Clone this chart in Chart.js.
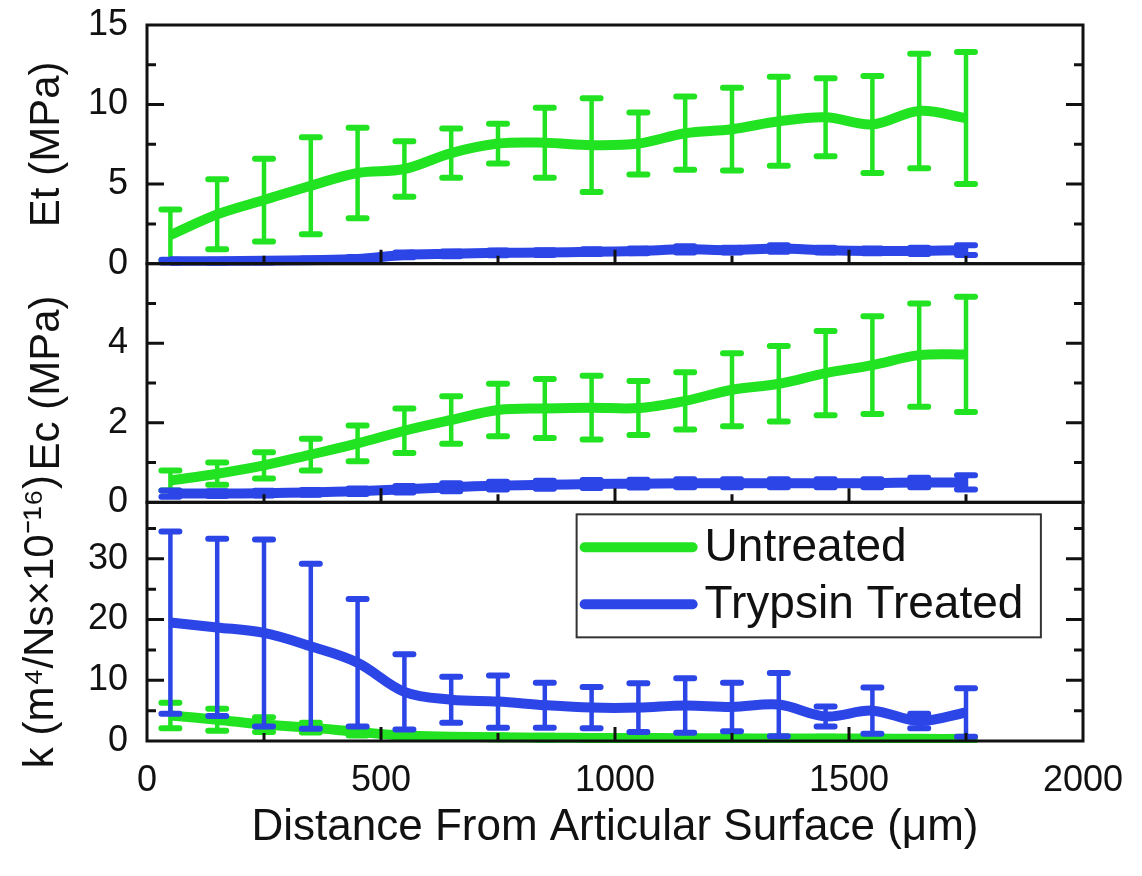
<!DOCTYPE html>
<html lang="en">
<head>
<meta charset="UTF-8">
<title>Et / Ec / k vs depth</title>
<script src="https://cdn.jsdelivr.net/npm/chart.js"></script>
<style>
    body { margin: 0; background: #ffffff; }
    #chart { display: block; }
</style>
</head>
<body>
<canvas id="chart" width="1142" height="876"></canvas>
<script>
// distance from articular surface (um)
const distance = [50, 150, 250, 350, 450, 550, 650, 750, 850, 950, 1050, 1150, 1250, 1350, 1450, 1550, 1650, 1750];
const seriesNames = ['Untreated', 'Trypsin Treated'];

// Et (MPa)
const etUntreated   = [1.8, 3.1, 4.0, 4.9, 5.7, 5.95, 6.95, 7.55, 7.6, 7.45, 7.55, 8.2, 8.45, 8.95, 9.2, 8.75, 9.6, 9.15];
const etUntreatedSd = [1.6, 2.2, 2.6, 3.05, 2.85, 1.75, 1.55, 1.25, 2.2, 2.95, 1.95, 2.3, 2.6, 2.8, 2.45, 3.05, 3.6, 4.15];
const etTrypsin     = [0.15, 0.15, 0.18, 0.22, 0.3, 0.55, 0.62, 0.68, 0.7, 0.75, 0.8, 0.9, 0.85, 0.95, 0.85, 0.8, 0.8, 0.85];
const etTrypsinSd   = [0.1, 0.1, 0.1, 0.1, 0.12, 0.15, 0.15, 0.15, 0.15, 0.15, 0.15, 0.2, 0.15, 0.2, 0.15, 0.15, 0.2, 0.3];

// Ec (MPa)
const ecUntreated   = [0.55, 0.72, 0.93, 1.2, 1.48, 1.8, 2.07, 2.32, 2.36, 2.38, 2.37, 2.55, 2.83, 2.98, 3.25, 3.45, 3.7, 3.72];
const ecUntreatedSd = [0.25, 0.28, 0.33, 0.4, 0.45, 0.56, 0.6, 0.66, 0.74, 0.8, 0.68, 0.72, 0.92, 0.95, 1.06, 1.23, 1.3, 1.45];
const ecTrypsin     = [0.22, 0.22, 0.23, 0.25, 0.28, 0.33, 0.38, 0.42, 0.44, 0.46, 0.47, 0.48, 0.48, 0.48, 0.48, 0.48, 0.5, 0.5];
const ecTrypsinSd   = [0.08, 0.06, 0.06, 0.06, 0.07, 0.08, 0.1, 0.1, 0.1, 0.1, 0.1, 0.1, 0.1, 0.1, 0.1, 0.1, 0.12, 0.18];

// k (m^4/Ns x 10^-16)
const kUntreated   = [4.2, 3.5, 2.7, 2.2, 1.5, 0.9, 0.7, 0.6, 0.55, 0.5, 0.5, 0.45, 0.45, 0.4, 0.4, 0.4, 0.35, 0.35];
const kUntreatedSd = [2.1, 1.8, 1.2, 0.8, 0.6, 0.4, 0.3, 0.3, 0.3, 0.3, 0.3, 0.3, 0.3, 0.3, 0.3, 0.3, 0.3, 0.3];
const kTrypsin     = [19.5, 18.7, 17.8, 15.6, 12.9, 8.1, 6.8, 6.5, 5.9, 5.5, 5.5, 5.85, 5.6, 6.0, 4.05, 5.0, 3.3, 4.7];
const kTrypsinSd   = [15, 14.6, 15.4, 13.6, 10.5, 6.2, 3.8, 4.3, 3.7, 3.4, 4.0, 4.5, 4.0, 5.2, 1.65, 3.8, 1.2, 4.0];

// axis ranges / tick steps
const xTicks = { max: 2000, major: 500, minor: 250 };
const panels = [
    { id: 'yEt', max: 15,   major: 5,  minor: 2.5 },
    { id: 'yEc', max: 6,    major: 2,  minor: 1 },
    { id: 'yK',  max: 39.3, major: 10, minor: 5 }
];

const GREEN = '#22e322';
const BLUE = '#2b45e6';
const FONT = "'Liberation Sans', Arial, sans-serif";

const pts = arr => distance.map((d, i) => ({ x: d, y: arr[i] }));

function series(label, values, sd, color, axis, order) {
    return {
        label: label,
        data: pts(values),
        errors: sd,
        yAxisID: axis,
        borderColor: color,
        backgroundColor: color,
        borderWidth: 10,
        pointRadius: 0,
        tension: 0.35,
        clip: 2,
        order: order
    };
}

// error bars drawn right after each dataset's line
const errorBars = {
    id: 'errorBars',
    afterDatasetDraw(chart, args) {
        const ds = chart.data.datasets[args.index];
        if (!ds.errors) return;
        const meta = args.meta;
        const xs = meta.xScale, ys = meta.yScale;
        const ctx = chart.ctx;
        ctx.save();
        ctx.beginPath();
        ctx.rect(xs.left, ys.top - 2, xs.right - xs.left, ys.bottom - ys.top + 4);
        ctx.clip();
        ctx.strokeStyle = ds.borderColor;
        ctx.lineCap = 'round';
        ds.data.forEach((p, i) => {
            const px = xs.getPixelForValue(p.x);
            const top = ys.getPixelForValue(p.y + ds.errors[i]);
            const bot = ys.getPixelForValue(p.y - ds.errors[i]);
            ctx.lineWidth = 4.5;
            ctx.beginPath();
            ctx.moveTo(px, top);
            ctx.lineTo(px, bot);
            ctx.stroke();
            ctx.lineWidth = 6;
            ctx.beginPath();
            ctx.moveTo(px - 9, top); ctx.lineTo(px + 9, top);
            ctx.moveTo(px - 9, bot); ctx.lineTo(px + 9, bot);
            ctx.stroke();
        });
        ctx.restore();
    }
};

// panel frames with inward ticks
const frames = {
    id: 'frames',
    afterDatasetsDraw(chart) {
        const ctx = chart.ctx;
        const xs = chart.scales.x;
        ctx.save();
        ctx.strokeStyle = '#111';
        ctx.lineWidth = 3;
        panels.forEach(p => {
            const ys = chart.scales[p.id];
            ctx.strokeRect(xs.left, ys.top, xs.right - xs.left, ys.bottom - ys.top);
            ctx.beginPath();
            for (let v = p.minor; v < p.max - 0.01; v += p.minor) {
                const py = ys.getPixelForValue(v);
                const len = Math.abs(v / p.major - Math.round(v / p.major)) < 0.001 ? 17 : 9;
                ctx.moveTo(xs.left, py); ctx.lineTo(xs.left + len, py);
                ctx.moveTo(xs.right, py); ctx.lineTo(xs.right - len, py);
            }
            for (let v = xTicks.minor; v < xTicks.max; v += xTicks.minor) {
                const px = xs.getPixelForValue(v);
                const len = v % xTicks.major === 0 ? 14 : 8;
                ctx.moveTo(px, ys.bottom); ctx.lineTo(px, ys.bottom - len);
            }
            ctx.stroke();
        });
        ctx.restore();
    }
};

// legend box inside the bottom panel
const legendBox = {
    id: 'legendBox',
    afterDraw(chart) {
        const ctx = chart.ctx;
        const xs = chart.scales.x;
        const ys = chart.scales.yK;
        const left = xs.getPixelForValue(918), right = xs.getPixelForValue(1910);
        const top = ys.top + 12, bottom = top + 123;
        ctx.save();
        ctx.fillStyle = '#ffffff';
        ctx.fillRect(left, top, right - left, bottom - top);
        ctx.strokeStyle = '#333';
        ctx.lineWidth = 2;
        ctx.strokeRect(left, top, right - left, bottom - top);
        const colors = [GREEN, BLUE];
        ctx.font = '46px ' + FONT;
        ctx.textBaseline = 'middle';
        ctx.lineCap = 'round';
        seriesNames.forEach((name, i) => {
            const cy = top + 33 + i * 57;
            ctx.strokeStyle = colors[i];
            ctx.lineWidth = 10;
            ctx.beginPath();
            ctx.moveTo(left + 8, cy); ctx.lineTo(left + 116, cy);
            ctx.stroke();
            ctx.fillStyle = '#111';
            ctx.fillText(name, left + 128, cy + 1);
        });
        ctx.restore();
    }
};

function yScale(p, title, pad) {
    return {
        type: 'linear',
        position: 'left',
        stack: 'panels',
        stackWeight: 1,
        min: 0,
        max: p.max,
        grid: { display: false, drawTicks: false },
        border: { display: false },
        ticks: {
            stepSize: p.major,
            autoSkip: false,
            padding: 19,
            color: '#111',
            font: { family: FONT, size: 36 },
            callback: v => (Math.abs(v / p.major - Math.round(v / p.major)) < 0.001 && (v < p.max - 0.01 || p.id === 'yEt')) ? String(v) : ''
        },
        title: { display: true, text: title, color: '#111', font: { family: FONT, size: 42 }, padding: { top: pad, bottom: 0 } },
        afterFit: s => { s.width = 147; s.paddingTop = 0; s.paddingBottom = 0; }
    };
}

new Chart(document.getElementById('chart'), {
    type: 'line',
    data: {
        datasets: [
            series(seriesNames[0], etUntreated, etUntreatedSd, GREEN, 'yEt', 1),
            series(seriesNames[0], ecUntreated, ecUntreatedSd, GREEN, 'yEc', 1),
            series(seriesNames[0], kUntreated, kUntreatedSd, GREEN, 'yK', 1),
            series(seriesNames[1], etTrypsin, etTrypsinSd, BLUE, 'yEt', 0),
            series(seriesNames[1], ecTrypsin, ecTrypsinSd, BLUE, 'yEc', 0),
            series(seriesNames[1], kTrypsin, kTrypsinSd, BLUE, 'yK', 0)
        ]
    },
    options: {
        responsive: false,
        animation: false,
        devicePixelRatio: 1,
        layout: { padding: { top: 25, right: 59, left: 0, bottom: 0 } },
        plugins: { legend: { display: false }, tooltip: { enabled: false } },
        scales: {
            x: {
                type: 'linear',
                min: 0,
                max: xTicks.max,
                grid: { display: false, drawTicks: false },
                border: { display: false },
                ticks: {
                    stepSize: xTicks.major,
                    autoSkip: false,
                    maxRotation: 0,
                    padding: 18,
                    color: '#111',
                    font: { family: FONT, size: 36 },
                    callback: v => String(v)
                },
                title: { display: true, text: 'Distance From Articular Surface (\u03bcm)', color: '#111', font: { family: FONT, size: 44 }, padding: { top: 0, bottom: 22 } },
                afterFit: s => { s.height = 135; s.paddingLeft = 0; s.paddingRight = 0; }
            },
            // bottom panel first: the last left axis in a stack sits on top
            yK: yScale(panels[2], 'k (m\u2074/Ns\u00d710\u207b\u00b9\u2076)', 16),
            yEc: yScale(panels[1], 'Ec (MPa)', 22),
            yEt: yScale(panels[0], 'Et (MPa)', 22)
        }
    },
    plugins: [errorBars, frames, legendBox]
});
</script>
</body>
</html>
